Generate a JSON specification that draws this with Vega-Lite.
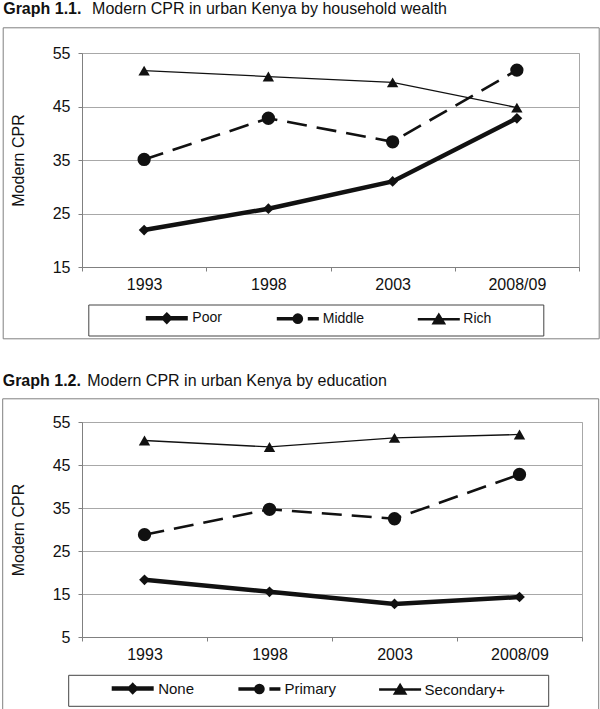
{
  "$schema": "https://vega.github.io/schema/vega-lite/v6.json",
  "background": "white",
  "padding": {"left": 1, "top": 0, "right": 1, "bottom": 0},
  "spacing": 32,
  "resolve": {"scale": {"fill": "independent", "shape": "independent", "strokeWidth": "independent", "strokeDash": "independent", "stroke": "independent"}, "legend": {"fill": "independent", "shape": "independent", "strokeWidth": "independent", "strokeDash": "independent", "stroke": "independent"}},
  "config": {
    "font": "Liberation Sans",
    "view": {"stroke": "#a8a8a8", "strokeWidth": 1},
    "axis": {"labelFont": "Liberation Sans", "labelFontSize": 16, "labelColor": "#111", "titleFont": "Liberation Sans", "titleFontSize": 16, "titleFontWeight": "normal", "titleColor": "#111", "domainColor": "#808080", "tickColor": "#808080", "gridColor": "#a8a8a8", "tickSize": 4},
    "title": {"anchor": "start", "font": "Liberation Sans", "fontSize": 16, "fontWeight": "bold", "color": "#111", "subtitleFont": "Liberation Sans", "subtitleFontSize": 16, "subtitleFontWeight": "normal", "subtitleColor": "#111", "subtitlePadding": -16}
  },
  "datasets": {
    "wealth": [
      {"year": "1993", "group": "Poor", "cpr": 21.9},
      {"year": "1998", "group": "Poor", "cpr": 25.9},
      {"year": "2003", "group": "Poor", "cpr": 31.0},
      {"year": "2008/09", "group": "Poor", "cpr": 42.8},
      {"year": "1993", "group": "Middle", "cpr": 35.1},
      {"year": "1998", "group": "Middle", "cpr": 42.8},
      {"year": "2003", "group": "Middle", "cpr": 38.4},
      {"year": "2008/09", "group": "Middle", "cpr": 51.8},
      {"year": "1993", "group": "Rich", "cpr": 51.7},
      {"year": "1998", "group": "Rich", "cpr": 50.6},
      {"year": "2003", "group": "Rich", "cpr": 49.5},
      {"year": "2008/09", "group": "Rich", "cpr": 44.8}
    ],
    "education": [
      {"year": "1993", "group": "None", "cpr": 18.3},
      {"year": "1998", "group": "None", "cpr": 15.5},
      {"year": "2003", "group": "None", "cpr": 12.7},
      {"year": "2008/09", "group": "None", "cpr": 14.3},
      {"year": "1993", "group": "Primary", "cpr": 28.8},
      {"year": "1998", "group": "Primary", "cpr": 34.7},
      {"year": "2003", "group": "Primary", "cpr": 32.5},
      {"year": "2008/09", "group": "Primary", "cpr": 42.8},
      {"year": "1993", "group": "Secondary+", "cpr": 50.7},
      {"year": "1998", "group": "Secondary+", "cpr": 49.2},
      {"year": "2003", "group": "Secondary+", "cpr": 51.3},
      {"year": "2008/09", "group": "Secondary+", "cpr": 52.1}
    ]
  },
  "vconcat": [
    {
      "title": {"text": "Graph 1.1.", "subtitle": "\u200b\u00a0\u00a0\u00a0\u00a0\u00a0\u00a0\u00a0\u00a0\u00a0\u00a0\u00a0\u00a0\u00a0\u00a0\u00a0\u00a0\u00a0\u00a0\u00a0\u00a0Modern CPR in urban Kenya by household wealth", "offset": 9.5, "dx": 1},
      "width": 497,
      "height": 214,
      "data": {"name": "wealth"},
      "encoding": {
        "x": {"field": "year", "type": "ordinal", "bandPosition": 0.5, "scale": {"type": "band", "paddingInner": 0, "paddingOuter": 0}, "axis": {"title": null, "labelAngle": 0, "tickBand": "extent", "grid": false, "labelPadding": 5}},
        "y": {"field": "cpr", "type": "quantitative", "scale": {"domain": [15, 55], "nice": false, "zero": false}, "axis": {"title": "Modern CPR", "values": [15, 25, 35, 45, 55], "labelPadding": 8, "titlePadding": 26, "grid": true}}
      },
      "layer": [
        {"transform": [{"filter": "datum.group === 'Poor'"}], "mark": {"type": "line", "color": "#111", "strokeWidth": 4.5}},
        {"transform": [{"filter": "datum.group === 'Middle'"}], "mark": {"type": "line", "color": "#111", "strokeWidth": 2.6, "strokeDash": [20, 10]}},
        {"transform": [{"filter": "datum.group === 'Rich'"}], "mark": {"type": "line", "color": "#111", "strokeWidth": 1.3}},
        {
          "mark": {"type": "point", "filled": true, "opacity": 0},
          "encoding": {
            "fill": {"field": "cpr", "type": "quantitative", "scale": {"range": ["rgba(255,255,255,0)", "rgba(255,255,255,0)"]},
              "legend": {"orient": "none", "legendX": -79.3, "legendY": -25.7, "direction": "horizontal", "gradientLength": 596, "gradientThickness": 310, "gradientStrokeWidth": 0, "labelOpacity": 0, "labelFontSize": 1, "labelOffset": 0, "title": null, "padding": 0, "strokeColor": "#808080", "tickCount": 2}}
          }
        },
        {"transform": [{"filter": "datum.group === 'Poor'"}], "mark": {"type": "point", "filled": true, "color": "#111", "opacity": 1, "shape": "diamond", "size": 115}},
        {"transform": [{"filter": "datum.group === 'Middle'"}], "mark": {"type": "point", "filled": true, "color": "#111", "opacity": 1, "shape": "circle", "size": 177}},
        {"transform": [{"filter": "datum.group === 'Rich'"}], "mark": {"type": "point", "filled": true, "color": "#111", "opacity": 1, "shape": "triangle-up", "size": 130}},
        {
          "transform": [{"filter": "false"}],
          "mark": {"type": "point", "filled": true, "fill": "#111", "stroke": "#111", "opacity": 1, "size": 144},
          "encoding": {
            "shape": {"field": "group", "type": "nominal", "scale": {"domain": ["Poor", "Middle", "Rich"], "range": ["M-1,0H6M2.5,-0.5L3,0L2.5,0.5L2,0Z", "M-1,0H6M3.1,0A0.6,0.6,0,1,1,1.9,0A0.6,0.6,0,1,1,3.1,0Z", "M-1,0H6M2.5,-0.75L3.35,0.65L1.65,0.65Z"]},
              "legend": {"orient": "none", "legendX": 6.3, "legendY": 251.5, "direction": "horizontal", "title": "\u200b\u00a0", "titleOrient": "left", "titlePadding": 50, "titleFontSize": 14, "titleFont": "Liberation Sans", "strokeColor": "#444", "padding": 5, "columnPadding": 47.5, "labelFont": "Liberation Sans", "labelFontSize": 14, "labelColor": "#111", "symbolSize": 144, "labelOffset": 32, "symbolFillColor": "#111", "symbolStrokeColor": "#111",
                "labelExpr": "datum.label === 'Rich' ? 'Rich\u00a0\u00a0\u00a0\u00a0\u00a0\u00a0\u00a0\u00a0\u00a0\u00a0\u00a0\u00a0\u200b' : datum.label"}},
            "stroke": {"field": "group", "type": "nominal", "scale": {"domain": ["Poor", "Middle", "Rich"], "range": ["#111111", "#111111", "#111111"]}},
            "strokeWidth": {"field": "group", "type": "nominal", "scale": {"domain": ["Poor", "Middle", "Rich"], "range": [4.5, 2.5, 1.3]}},
            "strokeDash": {"field": "group", "type": "nominal", "scale": {"domain": ["Poor", "Middle", "Rich"], "range": [[1, 0], [25, 6, 12, 6], [1, 0]]}}
          }
        }
      ]
    },
    {
      "title": {"text": "Graph 1.2.", "subtitle": "\u200b\u00a0\u00a0\u00a0\u00a0\u00a0\u00a0\u00a0\u00a0\u00a0\u00a0\u00a0\u00a0\u00a0\u00a0\u00a0\u00a0\u00a0\u00a0\u00a0Modern CPR in urban Kenya by education", "offset": 8.5, "dx": 1},
      "width": 500,
      "height": 215,
      "data": {"name": "education"},
      "encoding": {
        "x": {"field": "year", "type": "ordinal", "bandPosition": 0.5, "scale": {"type": "band", "paddingInner": 0, "paddingOuter": 0}, "axis": {"title": null, "labelAngle": 0, "tickBand": "extent", "grid": false, "labelPadding": 5}},
        "y": {"field": "cpr", "type": "quantitative", "scale": {"domain": [5, 55], "nice": false, "zero": false}, "axis": {"title": "Modern CPR", "values": [5, 15, 25, 35, 45, 55], "labelPadding": 8, "titlePadding": 26, "grid": true}}
      },
      "layer": [
        {"transform": [{"filter": "datum.group === 'None'"}], "mark": {"type": "line", "color": "#111", "strokeWidth": 4.5}},
        {"transform": [{"filter": "datum.group === 'Primary'"}], "mark": {"type": "line", "color": "#111", "strokeWidth": 2.6, "strokeDash": [20, 10]}},
        {"transform": [{"filter": "datum.group === 'Secondary+'"}], "mark": {"type": "line", "color": "#111", "strokeWidth": 1.3}},
        {
          "mark": {"type": "point", "filled": true, "opacity": 0},
          "encoding": {
            "fill": {"field": "cpr", "type": "quantitative", "scale": {"range": ["rgba(255,255,255,0)", "rgba(255,255,255,0)"]},
              "legend": {"orient": "none", "legendX": -79.8, "legendY": -23.7, "direction": "horizontal", "gradientLength": 596, "gradientThickness": 310, "gradientStrokeWidth": 0, "labelOpacity": 0, "labelFontSize": 1, "labelOffset": 0, "title": null, "padding": 0, "strokeColor": "#808080", "tickCount": 2}}
          }
        },
        {"transform": [{"filter": "datum.group === 'None'"}], "mark": {"type": "point", "filled": true, "color": "#111", "opacity": 1, "shape": "diamond", "size": 115}},
        {"transform": [{"filter": "datum.group === 'Primary'"}], "mark": {"type": "point", "filled": true, "color": "#111", "opacity": 1, "shape": "circle", "size": 177}},
        {"transform": [{"filter": "datum.group === 'Secondary+'"}], "mark": {"type": "point", "filled": true, "color": "#111", "opacity": 1, "shape": "triangle-up", "size": 130}},
        {
          "transform": [{"filter": "false"}],
          "mark": {"type": "point", "filled": true, "fill": "#111", "stroke": "#111", "opacity": 1, "size": 144},
          "encoding": {
            "shape": {"field": "group", "type": "nominal", "scale": {"domain": ["None", "Primary", "Secondary+"], "range": ["M-1,0H6M2.5,-0.5L3,0L2.5,0.5L2,0Z", "M-1,0H6M3.1,0A0.6,0.6,0,1,1,1.9,0A0.6,0.6,0,1,1,3.1,0Z", "M-1,0H6M2.5,-0.75L3.35,0.65L1.65,0.65Z"]},
              "legend": {"orient": "none", "legendX": -13.8, "legendY": 252.8, "direction": "horizontal", "title": "\u200b\u00a0", "titleOrient": "left", "titlePadding": 36, "titleFontSize": 15, "titleFont": "Liberation Sans", "strokeColor": "#444", "padding": 5, "columnPadding": 37.2, "labelFont": "Liberation Sans", "labelFontSize": 15, "labelColor": "#111", "symbolSize": 144, "labelOffset": 32, "symbolFillColor": "#111", "symbolStrokeColor": "#111",
                "labelExpr": "datum.label === 'Secondary+' ? 'Secondary+\u00a0\u00a0\u00a0\u00a0\u00a0\u00a0\u00a0\u00a0\u00a0\u200b' : datum.label"}},
            "stroke": {"field": "group", "type": "nominal", "scale": {"domain": ["None", "Primary", "Secondary+"], "range": ["#111111", "#111111", "#111111"]}},
            "strokeWidth": {"field": "group", "type": "nominal", "scale": {"domain": ["None", "Primary", "Secondary+"], "range": [4.5, 2.5, 1.3]}},
            "strokeDash": {"field": "group", "type": "nominal", "scale": {"domain": ["None", "Primary", "Secondary+"], "range": [[1, 0], [25, 6, 12, 6], [1, 0]]}}
          }
        }
      ]
    }
  ]
}
